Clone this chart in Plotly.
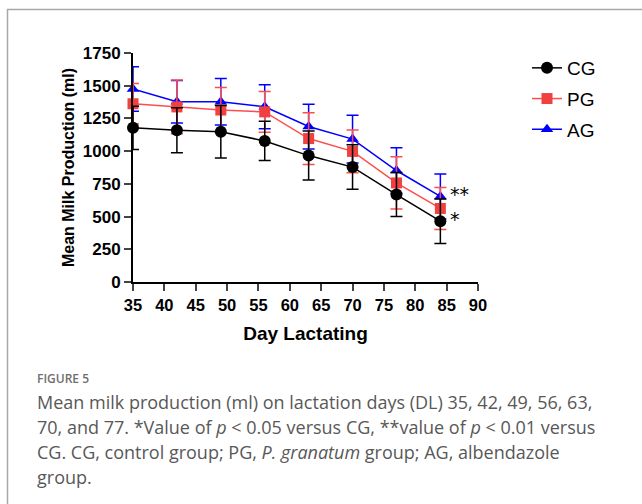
import plotly.graph_objects as go

# ---- data ----
days = [35, 42, 49, 56, 63, 70, 77, 84]
cg_mean = [1178, 1160, 1148, 1078, 966, 878, 668, 465]
cg_sd = [165, 172, 200, 150, 187, 170, 168, 170]
pg_mean = [1362, 1338, 1314, 1300, 1096, 998, 757, 562]
pg_sd = [155, 205, 172, 155, 198, 163, 200, 160]
ag_mean = [1475, 1378, 1378, 1339, 1188, 1092, 852, 654]
ag_sd = [170, 162, 178, 168, 171, 183, 173, 172]

x_ticks = [35, 40, 45, 50, 55, 60, 65, 70, 75, 80, 85, 90]
y_ticks = [0, 250, 500, 750, 1000, 1250, 1500, 1750]

W, H = 642, 504
L, R, T, B = 133, 478, 53, 282  # plot area in pixels


def px(x):
    return (x - L) / (R - L)


def py(y):
    return (B - y) / (B - T)


series = [
    ("AG", ag_mean, ag_sd, "#0000ff", "#0000ff", "triangle-up", 11, 3),
    ("PG", pg_mean, pg_sd, "#ff4d4d", "#f04040", "square", 11, 2),
    ("CG", cg_mean, cg_sd, "#000000", "#000000", "circle", 12, 1),
]

fig = go.Figure()
for name, m, sd, lcol, mcol, sym, size, rank in series:
    fig.add_trace(go.Scatter(
        x=days, y=m, name=name, mode="lines+markers",
        line=dict(color=lcol, width=1.5),
        marker=dict(color=mcol, symbol=sym, size=size, line=dict(width=0)),
        error_y=dict(type="data", array=sd, visible=True, color=lcol,
                     thickness=1.5, width=6),
        cliponaxis=False, legendrank=rank, legendgroup=name,
    ))

# significance marks (one text block: "**" next to AG, "*" next to PG)
fig.add_annotation(x=px(448), y=py(206), xref="paper", yref="paper", text="**<br>*",
                   showarrow=False, xanchor="left", yanchor="middle", align="left",
                   font=dict(family="DejaVu Sans", size=19, color="black"))

# caption
cap_font = dict(family="Open Sans", size=18, color="#585858")
fig.add_annotation(xref="paper", yref="paper", x=px(35), y=py(378), text="FIGURE 5",
                   showarrow=False, xanchor="left", yanchor="middle",
                   font=dict(family="Open Sans", size=12, color="#6e6e6e", weight=600))
cap_lines = [
    "Mean milk production (ml) on lactation days (DL) 35, 42, 49, 56, 63,",
    "70, and 77. *Value of <i>p</i> &lt; 0.05 versus CG, **value of <i>p</i> &lt; 0.01 versus",
    "CG. CG, control group; PG, <i>P. granatum</i> group; AG, albendazole",
    "group.",
]
for i, t in enumerate(cap_lines):
    fig.add_annotation(xref="paper", yref="paper", x=px(35), y=py(402 + 25 * i), text=t,
                       showarrow=False, xanchor="left", yanchor="middle", font=cap_font)

# border
fig.add_shape(type="path", xref="paper", yref="paper",
              path=f"M {px(7.5)} {py(504)} L {px(7.5)} {py(9.5)} L {px(642)} {py(9.5)}",
              line=dict(color="#a8a8a8", width=1.5))

fig.update_layout(
    width=W, height=H,
    margin=dict(l=L, r=W - R, t=T, b=H - B),
    plot_bgcolor="white", paper_bgcolor="white",
    font=dict(family="Liberation Sans", color="black"),
    showlegend=True,
    legend=dict(x=px(527), y=py(49), xanchor="left", yanchor="top",
                font=dict(family="Liberation Sans", size=19, color="black"),
                tracegroupgap=3, bgcolor="rgba(0,0,0,0)"),
    xaxis=dict(range=[35, 90], tickvals=x_ticks, ticks="outside", ticklen=7, tickwidth=2,
               showline=True, linewidth=2, linecolor="black", showgrid=False, zeroline=False,
               tickfont=dict(size=16.5, weight="bold"),
               title=dict(text="Day Lactating", font=dict(size=19, weight="bold"), standoff=14)),
    yaxis=dict(range=[0, 1750], tickvals=y_ticks, ticks="outside", ticklen=7, tickwidth=2,
               showline=True, linewidth=2, linecolor="black", showgrid=False, zeroline=False,
               tickfont=dict(size=17, weight="bold"),
               title=dict(text="Mean Milk Production (ml)", font=dict(size=16, weight="bold"),
                          standoff=4)),
)

fig.write_html("out.html")
